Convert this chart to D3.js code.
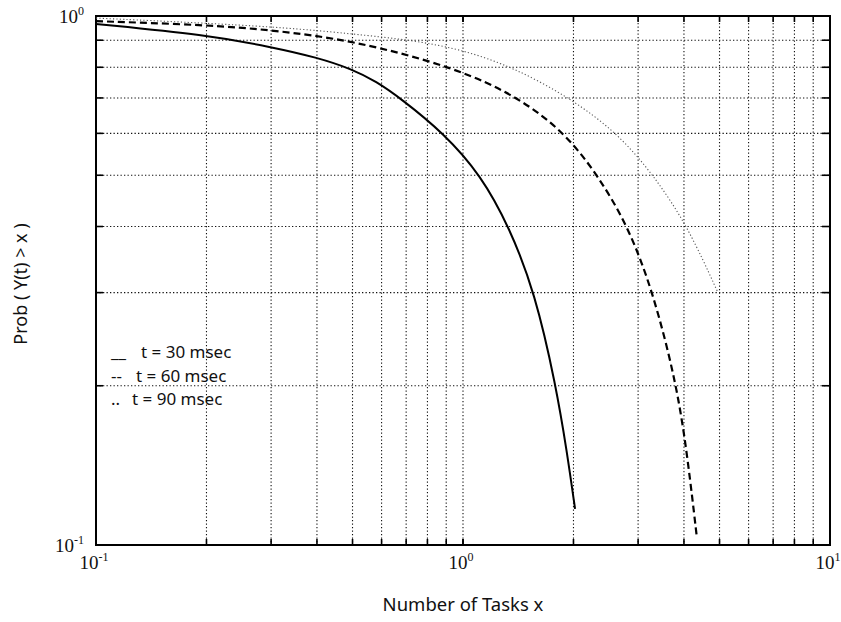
<!DOCTYPE html>
<html>
<head>
<meta charset="utf-8">
<script src="https://cdn.jsdelivr.net/npm/d3@7"></script>
<style>
  html, body { margin: 0; padding: 0; background: #fff; }
  svg { display: block; }
</style>
</head>
<body>
<svg id="chart" width="841" height="622"></svg>
<script>
// Tail probability of the number of tasks, for three observation windows
const seriesNames = ["t = 30 msec", "t = 60 msec", "t = 90 msec"];
const legendMarks = ["__", "--", ".."];

const tasks30 = [0.1, 0.2, 0.3, 0.4, 0.5, 0.58, 0.674, 0.888, 1.119, 1.335, 1.571, 1.792, 1.92, 2.02];
const prob30  = [0.966, 0.921, 0.874, 0.835, 0.793, 0.752, 0.7, 0.6, 0.5, 0.4, 0.3, 0.2, 0.15, 0.117];

const tasks60 = [0.1, 0.2, 0.3, 0.5, 0.95, 1.43, 1.9, 2.33, 2.82, 3.3, 3.83, 4.1, 4.34];
const prob60  = [0.978, 0.962, 0.941, 0.9, 0.8, 0.7, 0.6, 0.5, 0.4, 0.3, 0.2, 0.145, 0.103];

const tasks90 = [0.1, 0.3, 0.5, 0.73, 1.0, 1.37, 1.96, 2.64, 3.31, 4.1, 4.95];
const prob90  = [0.991, 0.957, 0.925, 0.9, 0.863, 0.8, 0.7, 0.6, 0.5, 0.4, 0.3];

const xMajor = [0.1, 1, 10];
const yMajor = [0.1, 1];
const xLabel = "Number of Tasks x";
const yLabel = "Prob ( Y(t) > x )";

const svg = d3.select("#chart");
const plotL = 96, plotR = 830, plotT = 16, plotB = 545;

const x = d3.scaleLog().domain([0.1, 10]).range([plotL, plotR]);
const y = d3.scaleLog().domain([0.1, 1]).range([plotB, plotT]);

// minor positions for grid + ticks
const xMinor = [];
[0.1, 1].forEach(d => { for (let k = 2; k <= 9; k++) xMinor.push(+(d * k).toFixed(3)); });
xMinor.push(1);
const yMinor = [];
for (let k = 2; k <= 9; k++) yMinor.push(+(0.1 * k).toFixed(3));

const grid = svg.append("g")
  .attr("stroke", "#111")
  .attr("stroke-width", 1.1)
  .attr("stroke-dasharray", "1.3,2.2");
grid.selectAll("line.vx").data(xMinor).join("line")
  .attr("x1", d => x(d)).attr("x2", d => x(d))
  .attr("y1", plotT).attr("y2", plotB);
grid.selectAll("line.hy").data(yMinor).join("line")
  .attr("x1", plotL).attr("x2", plotR)
  .attr("y1", d => y(d)).attr("y2", d => y(d));

// inward ticks on all four sides
const allX = xMinor.concat(xMajor);
const allY = yMinor.concat(yMajor);
const tickG = svg.append("g").attr("stroke", "#000").attr("stroke-width", 1.6);
tickG.selectAll("line.tb").data(allX).join("line")
  .attr("x1", d => x(d)).attr("x2", d => x(d))
  .attr("y1", plotB).attr("y2", plotB - 6);
tickG.selectAll("line.tt").data(allX).join("line")
  .attr("x1", d => x(d)).attr("x2", d => x(d))
  .attr("y1", plotT).attr("y2", plotT + 6);
tickG.selectAll("line.tl").data(allY).join("line")
  .attr("x1", plotL).attr("x2", plotL + 7)
  .attr("y1", d => y(d)).attr("y2", d => y(d));
tickG.selectAll("line.tr").data(allY).join("line")
  .attr("x1", plotR).attr("x2", plotR - 8)
  .attr("y1", d => y(d)).attr("y2", d => y(d));

// frame
svg.append("rect")
  .attr("x", plotL).attr("y", plotT)
  .attr("width", plotR - plotL).attr("height", plotB - plotT)
  .attr("fill", "none").attr("stroke", "#000").attr("stroke-width", 2);

// curves
const line = d3.line().x(d => x(d[0])).y(d => y(d[1])).curve(d3.curveBasis);
const zip = (a, b) => a.map((v, i) => [v, b[i]]);

svg.append("path").datum(zip(tasks30, prob30))
  .attr("d", line).attr("fill", "none")
  .attr("stroke", "#000").attr("stroke-width", 2);
svg.append("path").datum(zip(tasks60, prob60))
  .attr("d", line).attr("fill", "none")
  .attr("stroke", "#000").attr("stroke-width", 2.2)
  .attr("stroke-dasharray", "7,4");
svg.append("path").datum(zip(tasks90, prob90))
  .attr("d", line).attr("fill", "none")
  .attr("stroke", "#555").attr("stroke-width", 1.1)
  .attr("stroke-dasharray", "1.2,2.2");

// tick labels: powers of ten
const tickFont = "'Liberation Serif', serif";
function powLabel(sel, v) {
  const e = Math.round(Math.log10(v));
  sel.append("tspan").text("10");
  sel.append("tspan").attr("dy", -8).attr("font-size", 12)
    .text(e < 0 ? "-" + Math.abs(e) : String(e));
}
svg.selectAll("text.xl").data(xMajor).join("text")
  .attr("x", d => x(d) - 2).attr("y", 569)
  .attr("text-anchor", "middle")
  .attr("font-family", tickFont).attr("font-size", 19).attr("fill", "#111")
  .each(function(d) { powLabel(d3.select(this), d); });
svg.selectAll("text.yl").data(yMajor).join("text")
  .attr("x", plotL - 12).attr("y", d => y(d) + 7)
  .attr("text-anchor", "end")
  .attr("font-family", tickFont).attr("font-size", 19).attr("fill", "#111")
  .each(function(d) { powLabel(d3.select(this), d); });

// axis titles
const titleFont = "'Noto Sans', sans-serif";
svg.append("text")
  .attr("x", (plotL + plotR) / 2).attr("y", 611)
  .attr("text-anchor", "middle")
  .attr("font-family", titleFont).attr("font-size", 18.5).attr("fill", "#111")
  .text(xLabel);
svg.append("text")
  .attr("transform", "translate(27,284) rotate(-90)")
  .attr("text-anchor", "middle")
  .attr("font-family", titleFont).attr("font-size", 18).attr("fill", "#111")
  .text(yLabel);

// legend
const legend = svg.append("g")
  .attr("font-family", titleFont).attr("font-size", 17).attr("fill", "#111");
seriesNames.forEach((name, i) => {
  const yy = 358 + i * 23.5;
  legend.append("text").attr("x", 111).attr("y", yy).text(legendMarks[i]);
  legend.append("text").attr("x", i === 0 ? 141 : (i === 1 ? 136 : 132)).attr("y", yy).text(name);
});
</script>
</body>
</html>
